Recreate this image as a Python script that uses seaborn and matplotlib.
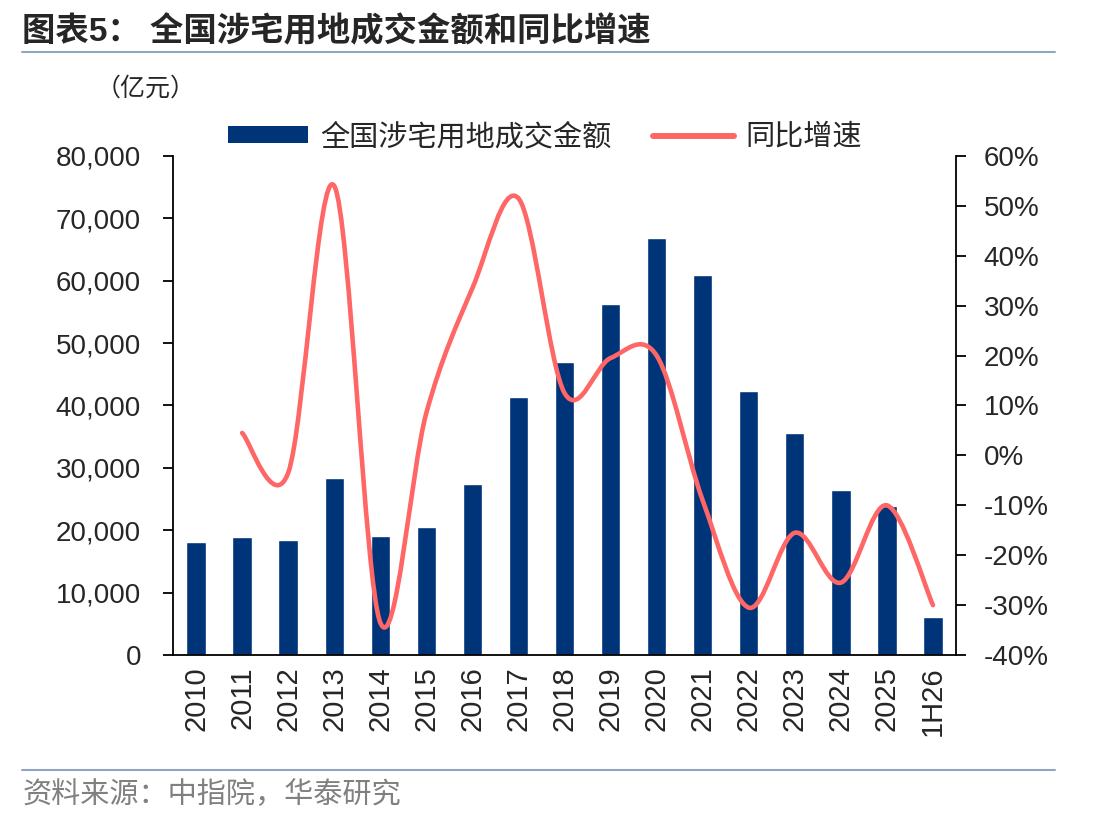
import numpy as np
import pandas as pd
import seaborn as sns
import matplotlib.pyplot as plt
from matplotlib.path import Path
from matplotlib.patches import PathPatch, Patch
from matplotlib.lines import Line2D
from matplotlib.ticker import FuncFormatter, MultipleLocator

years = ['2010', '2011', '2012', '2013', '2014', '2015', '2016', '2017', '2018',
         '2019', '2020', '2021', '2022', '2023', '2024', '2025', '1H26']
amount = [18100, 19000, 18400, 28400, 19050, 20500, 27400, 41300, 47000,
          56200, 66800, 60900, 42300, 35600, 26400, 23900, 6100]
# yoy growth (%) starts from 2011
yoy = [4.5, -3.5, 54.0, -33.5, 8.5, 33.5, 51.5, 12.5, 19.5,
       20.0, -9.0, -30.5, -15.5, -25.5, -10.0, -30.0]

bar_color = '#003478'
line_color = '#FF6666'

sns.set_style('white')
plt.rcParams['font.family'] = ['Liberation Sans', 'Noto Sans CJK SC', 'DejaVu Sans']
plt.rcParams['axes.unicode_minus'] = False

fig = plt.figure(figsize=(11.12, 8.25), dpi=100)
ax = fig.add_axes([0.1556, 0.206, 0.7041, 0.605])

df = pd.DataFrame({'year': years, 'amount': amount})
sns.barplot(data=df, x='year', y='amount', color=bar_color, width=0.42,
            saturation=1, ax=ax)
ax.set_xlim(-0.5, len(years) - 0.5)
ax.set_ylim(0, 80000)
ax.yaxis.set_major_locator(MultipleLocator(10000))
ax.yaxis.set_major_formatter(FuncFormatter(lambda v, p: f'{v:,.0f}'))
ax.set_xlabel('')
ax.set_ylabel('')

# x ticks between categories, labels at centers
ax.set_xticks(np.arange(len(years)))
ax.set_xticklabels(years, rotation=90, fontsize=21)
ax.set_xticks(np.arange(-0.5, len(years), 1), minor=True)
ax.tick_params(axis='x', which='major', length=0, pad=8)
ax.tick_params(axis='x', which='minor', length=7, width=1.3, direction='out', color='black')
ax.tick_params(axis='y', length=7, width=1.3, direction='out', labelsize=20, color='black', pad=16)

for s in ['top', 'right']:
    ax.spines[s].set_visible(False)
for s in ['left', 'bottom']:
    ax.spines[s].set_color('black')
    ax.spines[s].set_linewidth(1.3)

ax2 = ax.twinx()
ax2.set_ylim(-40, 60)
ax2.yaxis.set_major_locator(MultipleLocator(10))
ax2.yaxis.set_major_formatter(FuncFormatter(lambda v, p: f'{v:.0f}%'))
ax2.tick_params(axis='y', length=7, width=1.3, direction='out', labelsize=20, color='black', pad=13)
for s in ['top', 'left', 'bottom']:
    ax2.spines[s].set_visible(False)
ax2.spines['right'].set_color('black')
ax2.spines['right'].set_linewidth(1.3)

# smoothed line (Catmull-Rom style Bezier through the data points)
xs = np.arange(1, len(years), dtype=float)
ys = np.array(yoy, dtype=float)
pts = np.column_stack([xs, ys])
ext = np.vstack([pts[0], pts, pts[-1]])
verts = [tuple(pts[0])]
codes = [Path.MOVETO]
for i in range(len(pts) - 1):
    p0, p1, p2, p3 = ext[i], ext[i + 1], ext[i + 2], ext[i + 3]
    c1 = p1 + (p2 - p0) / 6
    c2 = p2 - (p3 - p1) / 6
    verts += [tuple(c1), tuple(c2), tuple(p2)]
    codes += [Path.CURVE4] * 3
ax2.add_patch(PathPatch(Path(verts, codes), facecolor='none', edgecolor=line_color,
                        lw=3.3, capstyle='round', joinstyle='round'))

handles = [Patch(facecolor=bar_color, edgecolor='none'),
           Line2D([], [], color=line_color, lw=4.3, solid_capstyle='round')]
fig.legend(handles, ['全国涉宅用地成交金额', '同比增速'], loc='center',
           bbox_to_anchor=(0.49, 0.834), ncol=2, frameon=False, fontsize=21,
           handlelength=2.75, handleheight=0.5, columnspacing=1.45, handletextpad=0.4)

fig.text(0.02, 0.961, '图表5： 全国涉宅用地成交金额和同比增速', fontsize=24,
         fontweight='bold', va='center', ha='left')
fig.add_artist(Line2D([0.02, 0.949], [0.937, 0.937], color='#8EA6C0', lw=1.5))
fig.text(0.086, 0.893, '（亿元）', fontsize=18, va='center', ha='left')
fig.add_artist(Line2D([0.02, 0.949], [0.067, 0.067], color='#8EA6C0', lw=1.5))
fig.text(0.02, 0.036, '资料来源：中指院，华泰研究', fontsize=21, color='#808080',
         va='center', ha='left')

fig.savefig('out.png', dpi=100)
